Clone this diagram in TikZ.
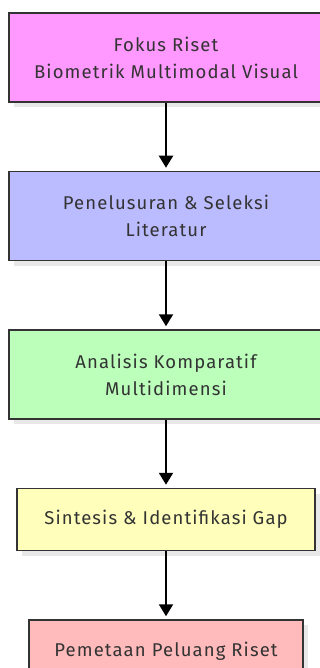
\documentclass[tikz,border=0pt]{standalone}
\usepackage{fontspec}
\setmainfont{Fira Sans}
\newfontfamily\flowfont[LetterSpace=6]{Fira Sans}
\usepackage{xcolor}
\usetikzlibrary{positioning,shadows,arrows.meta}

\definecolor{txtgray}{HTML}{333333}
\definecolor{fokusfill}{HTML}{FF99FF}
\definecolor{telusurfill}{HTML}{BBBBFF}
\definecolor{analisisfill}{HTML}{BBFFBB}
\definecolor{sintesisfill}{HTML}{FFFFBB}
\definecolor{petafill}{HTML}{FFBBBB}

\begin{document}
\begin{tikzpicture}[
    x=1pt, y=1pt,
    node distance=68pt,
    block/.style={draw=txtgray, line width=1.5pt, rectangle, align=center,
        text=txtgray, font=\flowfont\fontsize{18.5}{27}\selectfont, inner sep=2pt,
        drop shadow={shadow xshift=5pt, shadow yshift=-5pt, fill=black!9, opacity=1}},
    line/.style={-{Triangle[width=14pt,length=12pt]}, line width=2pt, shorten >=3pt}
]
\useasboundingbox (0,0) rectangle (320,-668);

% Research flow, top to bottom
\node[block, fill=fokusfill, minimum width=314pt, minimum height=89pt] (fokus) at (166,-57.5) {Fokus Riset\\Biometrik Multimodal Visual};
\node[block, fill=telusurfill, minimum width=314pt, minimum height=89pt, below=of fokus] (telusur) {Penelusuran \& Seleksi\\Literatur};
\node[block, fill=analisisfill, minimum width=314pt, minimum height=89pt, below=of telusur] (analisis) {Analisis Komparatif\\Multidimensi};
\node[block, fill=sintesisfill, minimum width=298pt, minimum height=62pt, below=of analisis] (sintesis) {Sintesis \& Identifikasi Gap};
\node[block, fill=petafill, minimum width=274pt, minimum height=62pt, below=of sintesis] (peta) {Pemetaan Peluang Riset};

\draw[line] (fokus) -- (telusur);
\draw[line] (telusur) -- (analisis);
\draw[line] (analisis) -- (sintesis);
\draw[line] (sintesis) -- (peta);

\end{tikzpicture}
\end{document}
